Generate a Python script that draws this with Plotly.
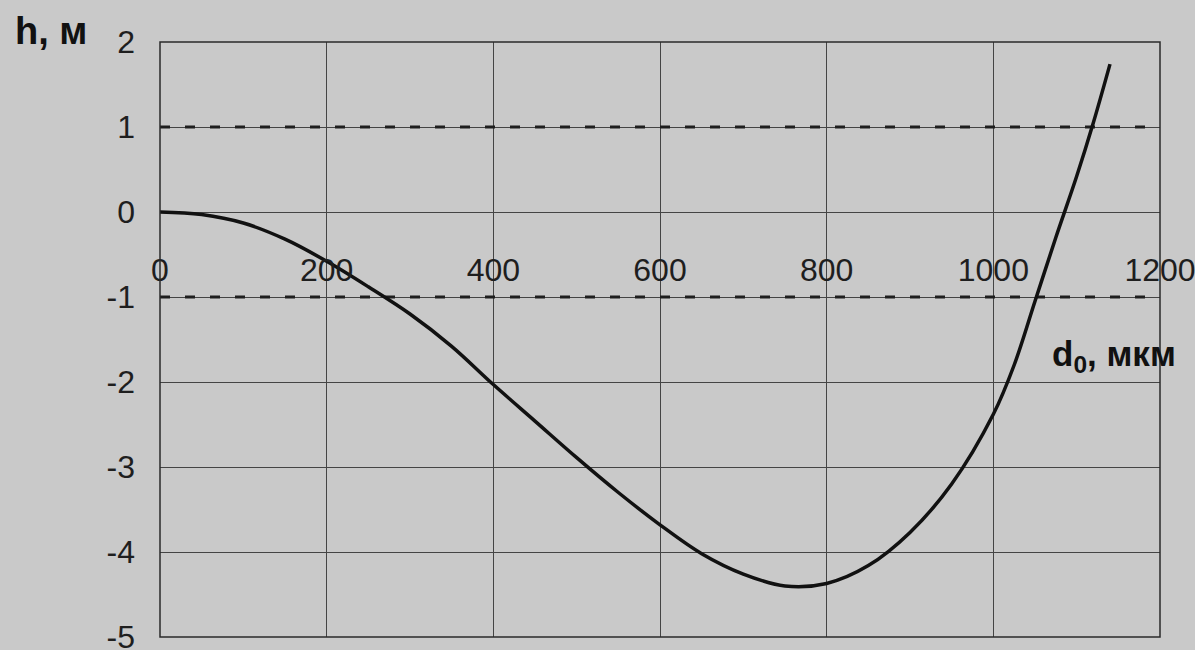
import plotly.graph_objects as go

# Data
d0_um = [0, 50, 100, 150, 200, 250, 300, 350, 400, 450, 500, 550, 600, 650, 700,
         750, 800, 850, 900, 950, 1000, 1025, 1050, 1075, 1100, 1120, 1140]
h_m = [0, -0.03, -0.13, -0.32, -0.58, -0.88, -1.2, -1.58, -2.03, -2.46, -2.89, -3.3,
       -3.68, -4.02, -4.26, -4.4, -4.37, -4.16, -3.77, -3.2, -2.38, -1.8, -1.05,
       -0.3, 0.42, 1.05, 1.74]

limit_levels = [1, -1]
x_ticks = [0, 200, 400, 600, 800, 1000, 1200]
y_ticks = [2, 1, 0, -1, -2, -3, -4, -5]
x_range = [0, 1200]
y_range = [-5, 2]

FONT = "Liberation Sans, Arial, sans-serif"
BG = "#c9c9c9"
INK = "#1e1e1e"

fig = go.Figure()

for lvl in limit_levels:
    fig.add_trace(go.Scatter(
        x=x_range, y=[lvl, lvl], mode="lines",
        line=dict(color=INK, width=3, dash="10px,15px"),
        hoverinfo="skip", showlegend=False))

fig.add_trace(go.Scatter(
    x=d0_um, y=h_m, mode="lines",
    line=dict(color="#111111", width=3.5, shape="spline", smoothing=1.0),
    showlegend=False))

fig.update_layout(
    width=1195, height=650,
    margin=dict(l=160, r=35, t=42, b=13, autoexpand=False),
    paper_bgcolor=BG, plot_bgcolor=BG,
    font=dict(family=FONT, color=INK),
    showlegend=False,
    xaxis=dict(
        range=x_range, tickvals=x_ticks, ticktext=[str(v) for v in x_ticks],
        showgrid=True, gridcolor="#444444", gridwidth=1,
        zeroline=False, showline=False, automargin=False,
        anchor="free", position=5/7, side="bottom",
        ticks="", ticklabelstandoff=36, ticklabeloverflow="allow",
        tickfont=dict(size=32, family=FONT, color=INK),
    ),
    yaxis=dict(
        range=y_range, tickvals=y_ticks, ticktext=[str(v) for v in y_ticks],
        showgrid=True, gridcolor="#444444", gridwidth=1,
        zeroline=False, showline=False, automargin=False,
        ticks="", ticklabelstandoff=24, ticklabeloverflow="allow",
        tickfont=dict(size=32, family=FONT, color=INK),
    ),
    shapes=[dict(type="rect", xref="paper", yref="paper", x0=0, x1=1, y0=0, y1=1,
                 line=dict(color="#2a2a2a", width=1.5), fillcolor="rgba(0,0,0,0)")],
    annotations=[
        dict(text="<b>h, м</b>", xref="paper", yref="paper", x=-0.147, y=1.018,
             xanchor="left", yanchor="middle", showarrow=False,
             font=dict(size=38, family=FONT, color="#111111")),
        dict(text="<b>d<sub>0</sub>, мкм</b>", xref="paper", yref="paper", x=1.018, y=0.472,
             xanchor="right", yanchor="middle", showarrow=False,
             font=dict(size=35, family=FONT, color="#111111")),
    ],
)

fig.write_html(
    "out.html",
    config={"displayModeBar": False},
    post_script="document.body.style.margin='0';document.body.style.background='#c9c9c9';",
)
